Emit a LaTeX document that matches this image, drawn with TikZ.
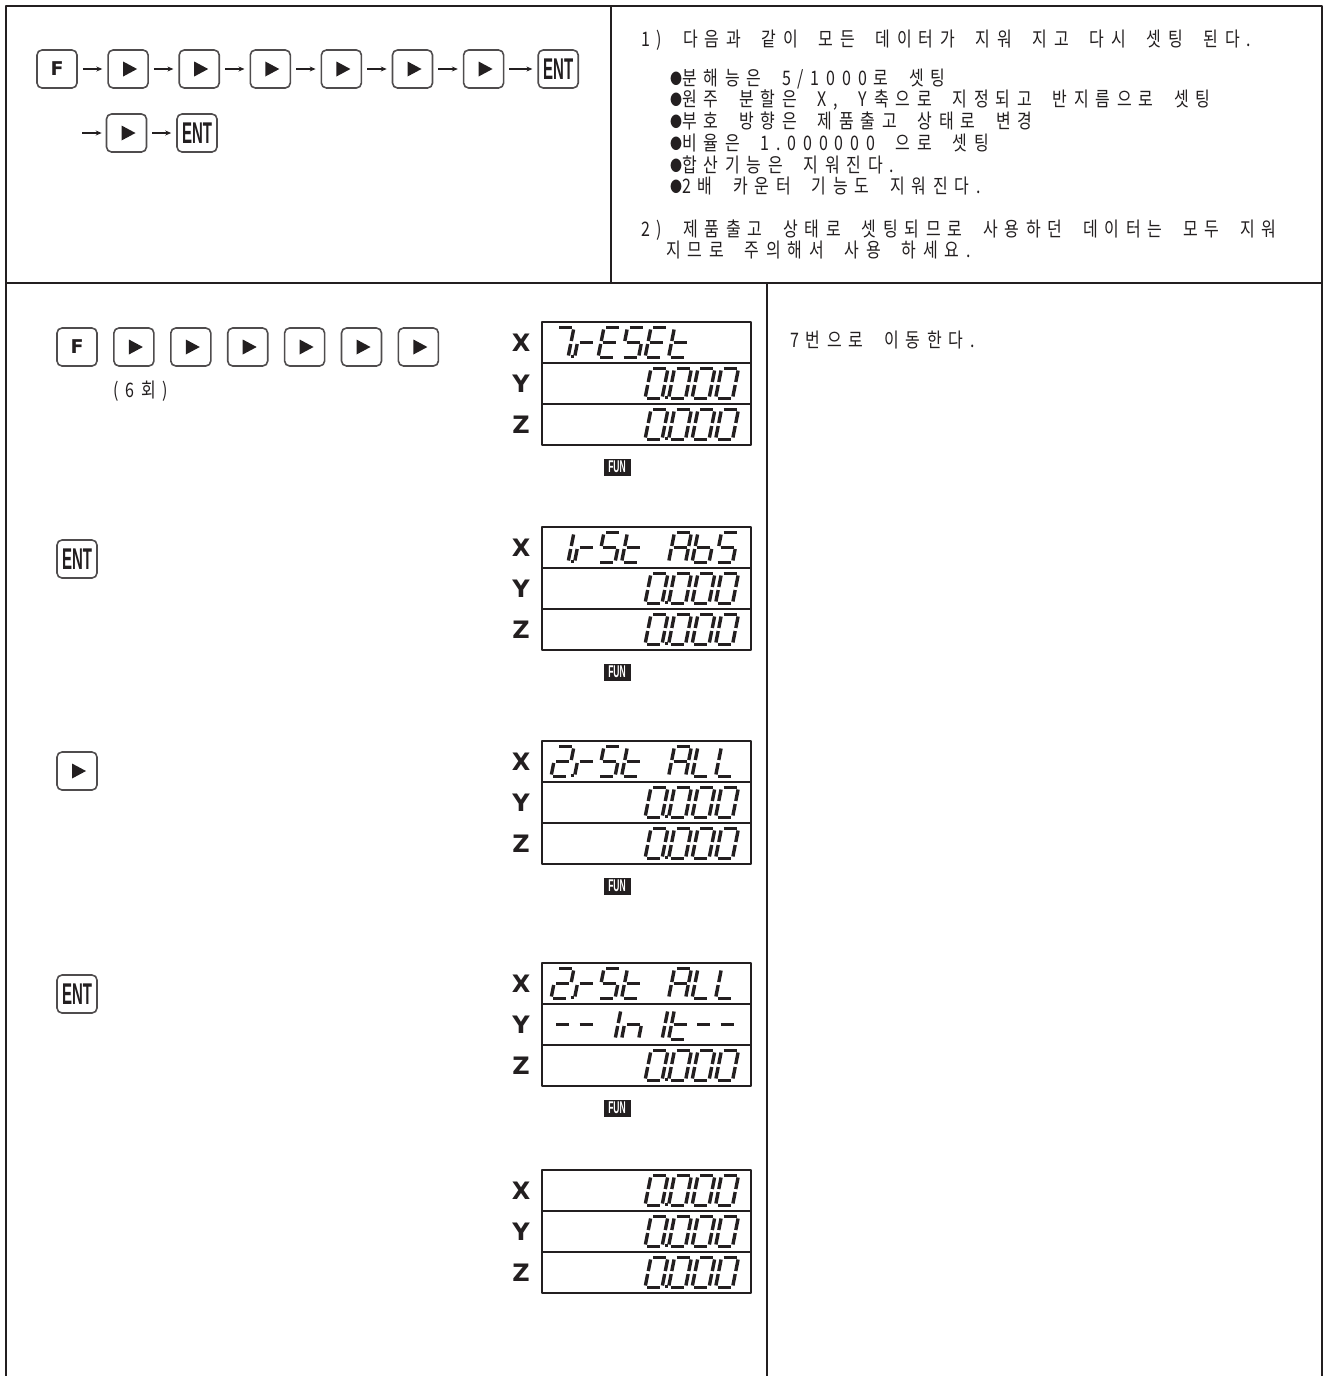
\documentclass[tikz,border=0pt]{standalone}
\usepackage{fontspec}
\setmainfont{Liberation Sans}
\newfontfamily\krfont[FakeStretch=0.8,LetterSpace=34,WordSpace=2.0]{Noto Sans CJK KR}
\newfontfamily\axisfont{DejaVu Sans}
\newfontfamily\condfont[FakeStretch=0.5]{Liberation Sans}
\usetikzlibrary{arrows.meta, positioning}
\definecolor{ink}{HTML}{231F20}
\newcommand{\dotmark}{\raisebox{1pt}{\fontsize{15}{15}\selectfont ●}}

\begin{document}
\begin{tikzpicture}[x=1pt, y=-1pt, line join=round,
  every node/.style={inner sep=0pt, text=ink},
  frame/.style={draw=ink, line width=2.4pt},
  keybox/.style={draw=ink!80, line width=1.6pt, rounded corners=5pt, minimum width=40pt, minimum height=38pt},
  playkey/.style={keybox, path picture={\fill[ink, sharp corners] ([xshift=-5pt,yshift=7.5pt]path picture bounding box.center) -- ++(14,7.5) -- ++(-14,7.5) -- cycle;}},
  fkey/.style={keybox, font=\axisfont\bfseries\fontsize{19}{19}\selectfont},
  entkey/.style={keybox, font=\condfont\bfseries\fontsize{30}{30}\selectfont},
  keyarrow/.style={-{Stealth[length=6pt,width=5pt]}, draw=ink, line width=1.3pt},
  krtext/.style={anchor=west, font=\krfont\fontsize{20}{23}\selectfont},
  axislabel/.style={font=\axisfont\bfseries\fontsize{24}{24}\selectfont},
  lcdbox/.style={draw=ink, line width=1.4pt},
  lcdseg/.style={draw=ink, line width=3.4pt},
  funbox/.style={fill=ink, text=white, minimum width=27pt, minimum height=17pt, font=\condfont\bfseries\fontsize{17}{17}\selectfont},
  lcdchar/.pic={
    \coordinate (a1) at (2,0);     \coordinate (a2) at (15,0);
    \coordinate (b1) at (17,2);    \coordinate (b2) at (17,13.5);
    \coordinate (c1) at (17,16.5); \coordinate (c2) at (17,28);
    \coordinate (d1) at (2,30);    \coordinate (d2) at (15,30);
    \coordinate (e1) at (0,16.5);  \coordinate (e2) at (0,28);
    \coordinate (f1) at (0,2);     \coordinate (f2) at (0,13.5);
    \coordinate (g1) at (2,15);    \coordinate (g2) at (15,15);
    \coordinate (p1) at (19.5,29); \coordinate (p2) at (22.5,29);
    \foreach \sg in #1 {\draw[lcdseg] (\sg1) -- (\sg2);}
  }
]
\useasboundingbox (0,0) rectangle (1329,1376);

\draw[frame] (6,1380) -- (6,6) -- (1322,6) -- (1322,1380);
\draw[frame] (6,283) -- (1322,283);
\draw[frame] (611,6) -- (611,283);
\draw[frame] (767,283) -- (767,1380);

\node[fkey] (tk0) at (57,69) {F};
\foreach \i [count=\j from 0] in {1,...,6}
  \node[playkey, right=29.5pt of tk\j] (tk\i) {};
\node[entkey, right=33pt of tk6] (tk7) {ENT};
\foreach \i [count=\j from 0] in {1,...,7}
  \draw[keyarrow] ([xshift=5pt]tk\j.east) -- ([xshift=-5pt]tk\i.west);

\coordinate (sk0) at (82,133);
\node[playkey] (sk1) at (126.5,133) {};
\node[entkey] (sk2) at (197,133) {ENT};
\draw[keyarrow] (sk0) -- ([xshift=-4pt]sk1.west);
\draw[keyarrow] ([xshift=5pt]sk1.east) -- ([xshift=-5pt]sk2.west);

\node[krtext] (note1) at (641,40) {1) 다음과 같이 모든 데이터가 지워 지고 다시 셋팅 된다.};
\node[krtext] (item1) at (670,79) {\dotmark 분해능은 5/1000로 셋팅};
\node[krtext] (item2) at (670,100) {\dotmark 원주 분할은 X, Y축으로 지정되고 반지름으로 셋팅};
\node[krtext] (item3) at (670,121) {\dotmark 부호 방향은 제품출고 상태로 변경};
\node[krtext] (item4) at (670,143) {\dotmark 비율은 1.000000 으로 셋팅};
\node[krtext] (item5) at (670,165) {\dotmark 합산기능은 지워진다.};
\node[krtext] (item6) at (670,186) {\dotmark 2배 카운터 기능도 지워진다.};
\node[krtext] (note2) at (641,230) {2) 제품출고 상태로 셋팅되므로 사용하던 데이터는 모두 지워};
\node[krtext] (note2b) at (666,250) {지므로 주의해서 사용 하세요.};

\node[fkey] (bk0) at (77,347) {F};
\foreach \i [count=\j from 0] in {1,...,6}
  \node[playkey, right=15.3pt of bk\j] (bk\i) {};
\node[krtext, anchor=center] (times) at (141,391) {(6회)};
\node[krtext] (goto) at (790,340) {7번으로 이동한다.};

\node[entkey] (stepA) at (77,559) {ENT};
\node[playkey] (stepB) at (77,771) {};
\node[entkey] (stepC) at (77,994) {ENT};

\foreach \top [count=\p] in {322,527,741,963,1170} {
  \draw[lcdbox] (542,\top) rectangle (751,\top+123);
  \draw[lcdbox] (542,\top+41) -- (751,\top+41) (542,\top+82) -- (751,\top+82);
  \node[axislabel] (lx\p) at (521,\top+20.5) {X};
  \node[axislabel] (ly\p) at (521,\top+61.5) {Y};
  \node[axislabel] (lz\p) at (521,\top+102.5) {Z};
}
\foreach \top [count=\p] in {322,527,741,963}
  \node[funbox] (fun\p) at (617,\top+145) {FUN};

\foreach \rtop in {363,404,568,609,782,823,1045,1170,1211,1252}
  \foreach \cel/\segs in {5/{a,b,c,d,e,f,p},6/{a,b,c,d,e,f},7/{a,b,c,d,e,f},8/{a,b,c,d,e,f}}
    \pic[xslant=0.2] at ({557+23.5*(\cel-1)},\rtop+5.5) {lcdchar=\segs};

\foreach \rtop/\chars in {
    322/{1/{a,b,c,p},2/{e,g},3/{a,d,e,f,g},4/{a,f,g,c,d},5/{a,d,e,f,g},6/{d,e,f,g}},
    527/{1/{b,c,p},2/{e,g},3/{a,f,g,c,d},4/{d,e,f,g},6/{a,b,c,e,f,g},7/{c,d,e,f,g},8/{a,f,g,c,d}},
    741/{1/{a,b,g,e,d,p},2/{e,g},3/{a,f,g,c,d},4/{d,e,f,g},6/{a,b,c,e,f,g},7/{d,e,f},8/{d,e,f}},
    963/{1/{a,b,g,e,d,p},2/{e,g},3/{a,f,g,c,d},4/{d,e,f,g},6/{a,b,c,e,f,g},7/{d,e,f},8/{d,e,f}},
    1004/{1/{g},2/{g},3/{b,c},4/{c,e,g},5/{b,c},6/{d,e,f,g},7/{g},8/{g}}}
  \foreach \cel/\segs in \chars
    \pic[xslant=0.2] at ({557+23.5*(\cel-1)},\rtop+5.5) {lcdchar=\segs};
\end{tikzpicture}
\end{document}
